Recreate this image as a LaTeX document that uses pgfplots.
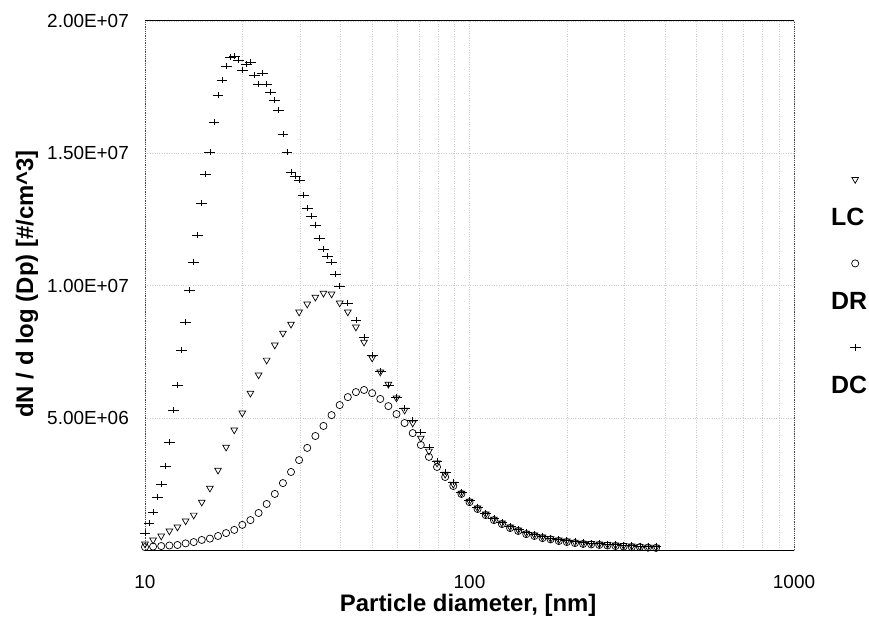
\documentclass[border=0pt]{standalone}
\usepackage{fontspec}
\setmainfont{Liberation Sans}
\usepackage{pgfplots}
\pgfplotsset{compat=1.18}
\usepackage{pgfplotstable}

% LC (values in 1e6 #/cm^3)
\pgfplotstableread{
D N
10.00 0.23
10.59 0.38
11.22 0.53
11.89 0.72
12.59 0.87
13.34 1.10
14.13 1.32
14.96 1.81
15.85 2.34
16.79 3.02
17.78 3.89
18.84 4.54
19.95 5.18
21.13 5.93
22.39 6.62
23.71 7.18
25.12 7.75
26.61 8.20
28.18 8.54
29.85 9.00
31.62 9.30
33.50 9.56
35.48 9.71
37.58 9.68
39.81 9.34
42.17 9.00
44.67 8.43
47.32 7.86
50.12 7.26
53.09 6.73
56.23 6.27
59.57 5.75
63.10 5.29
66.83 4.80
70.79 4.23
74.99 3.74
79.43 3.29
84.14 2.87
89.13 2.49
94.41 2.15
100.0 1.85
105.9 1.59
112.2 1.36
118.9 1.17
125.9 1.02
133.4 0.87
141.3 0.76
149.6 0.64
158.5 0.57
167.9 0.49
177.8 0.43
188.4 0.38
199.5 0.34
211.3 0.30
223.9 0.26
237.1 0.25
251.2 0.23
266.1 0.21
281.8 0.19
298.5 0.17
316.2 0.15
335.0 0.13
354.8 0.11
375.8 0.11
}\lcdata

% DR
\pgfplotstableread{
D N
10.00 0.11
10.59 0.13
11.22 0.15
11.89 0.17
12.59 0.19
13.34 0.25
14.13 0.30
14.96 0.38
15.85 0.43
16.79 0.53
17.78 0.64
18.84 0.76
19.95 0.95
21.13 1.13
22.39 1.40
23.71 1.74
25.12 2.12
26.61 2.53
28.18 2.95
29.85 3.40
31.62 3.86
33.50 4.31
35.48 4.69
37.58 5.10
39.81 5.48
42.17 5.78
44.67 5.97
47.32 6.05
50.12 5.93
53.09 5.71
56.23 5.44
59.57 5.14
63.10 4.80
66.83 4.42
70.79 3.97
74.99 3.52
79.43 3.14
84.14 2.76
89.13 2.42
94.41 2.12
100.0 1.81
105.9 1.55
112.2 1.32
118.9 1.13
125.9 0.98
133.4 0.83
141.3 0.72
149.6 0.60
158.5 0.53
167.9 0.45
177.8 0.40
188.4 0.34
199.5 0.30
211.3 0.26
223.9 0.23
237.1 0.21
251.2 0.19
266.1 0.17
281.8 0.15
298.5 0.13
316.2 0.11
335.0 0.11
354.8 0.09
375.8 0.08
}\drdata

% DC
\pgfplotstableread{
D N
10.00 0.64
10.29 1.02
10.59 1.44
10.90 2.00
11.22 2.49
11.55 3.18
11.89 4.08
12.23 5.29
12.59 6.24
12.96 7.56
13.34 8.62
13.73 9.83
14.13 10.89
14.54 11.91
14.96 13.12
15.40 14.21
15.85 15.04
16.32 16.18
16.79 17.20
17.28 17.77
17.78 18.30
18.31 18.64
18.84 18.67
19.39 18.52
19.95 18.14
20.54 18.37
21.13 18.45
21.76 17.96
22.39 17.61
23.05 18.03
23.71 17.61
24.42 17.31
25.12 17.01
25.85 16.63
26.61 15.72
27.39 15.04
28.18 14.29
29.01 14.14
29.85 13.99
30.73 13.42
31.62 12.93
32.55 12.63
33.50 12.29
34.47 11.79
35.48 11.38
36.52 11.11
37.58 10.89
38.68 10.43
39.81 9.98
42.17 9.34
44.67 8.69
47.32 8.05
50.12 7.37
53.09 6.77
56.23 6.24
59.57 5.78
63.10 5.37
66.83 4.91
70.79 4.46
74.99 3.89
79.43 3.36
84.14 2.95
89.13 2.57
94.41 2.19
100.0 1.89
105.9 1.63
112.2 1.40
118.9 1.21
125.9 1.06
133.4 0.91
141.3 0.79
149.6 0.68
158.5 0.60
167.9 0.53
177.8 0.45
188.4 0.42
199.5 0.38
211.3 0.34
223.9 0.30
237.1 0.26
251.2 0.25
266.1 0.23
281.8 0.21
298.5 0.19
316.2 0.17
335.0 0.15
354.8 0.15
375.8 0.13
}\dcdata

\begin{document}
\begin{tikzpicture}
\begin{axis}[
  at={(0,0)}, anchor=south west,
  scale only axis, width=649bp, height=529bp,
  xmode=log, xmin=10, xmax=1000, ymin=0, ymax=20,
  xtick={10,100,1000}, xticklabels={10,100,1000},
  minor xtick={20,30,40,50,60,70,80,90,200,300,400,500,600,700,800,900},
  ytick={5,10,15,20}, yticklabels={5.00E+06,1.00E+07,1.50E+07,2.00E+07},
  major tick length=0pt, minor tick length=0pt,
  xmajorgrids, xminorgrids, ymajorgrids,
  grid style={black!20, dotted, line width=0.5pt},
  minor grid style={black!20, dotted, line width=0.5pt},
  separate axis lines,
  x axis line style={black, line width=1pt},
  y axis line style={black!70, densely dotted, line width=0.8pt},
  /pgf/number format/assume math mode=true,
  tick label style={font=\fontsize{19}{19}\selectfont},
  xticklabel style={anchor=north, inner sep=0pt, yshift=-25bp},
  yticklabel style={anchor=east, inner sep=0pt, xshift=-16bp},
  xlabel={Particle diameter, [nm]},
  ylabel={dN / d log (Dp) [\#/cm\textasciicircum 3]},
  label style={font=\bfseries\fontsize{24}{24}\selectfont},
  xlabel style={at={(axis description cs:0.498,-0.104)}, anchor=center},
  ylabel style={at={(axis description cs:-0.1818,0.503)}, anchor=center},
  clip=false,
  legend style={at={(axis description cs:1.057,0.648)}, anchor=north west,
    draw=none, fill=none, inner sep=0pt, row sep=66bp, column sep=0pt,
    font=\bfseries\fontsize{25}{25}\selectfont,
    nodes={text height=18bp, text depth=0pt, inner sep=0pt}},
  legend cell align=left,
  legend image code/.code={\draw[#1, overlay, xshift=24bp, yshift=37bp] plot coordinates {(0bp,0bp)};},
]
\addplot[only marks, mark=triangle, mark size=3.9pt, mark options={rotate=180, black, line width=0.7pt}] table[x=D, y=N] {\lcdata};
\addlegendentry{LC}
\addplot[only marks, mark=o, mark size=3.6pt, mark options={black, line width=0.7pt}] table[x=D, y=N] {\drdata};
\addlegendentry{DR}
\addplot[only marks, mark=+, mark size=3.2pt, mark options={black, line width=0.7pt, xscale=1.7}] table[x=D, y=N] {\dcdata};
\addlegendentry{DC}
\end{axis}
\pgfresetboundingbox
\path[use as bounding box] (-145bp,-72bp) rectangle (724bp,550bp);
\end{tikzpicture}
\end{document}
